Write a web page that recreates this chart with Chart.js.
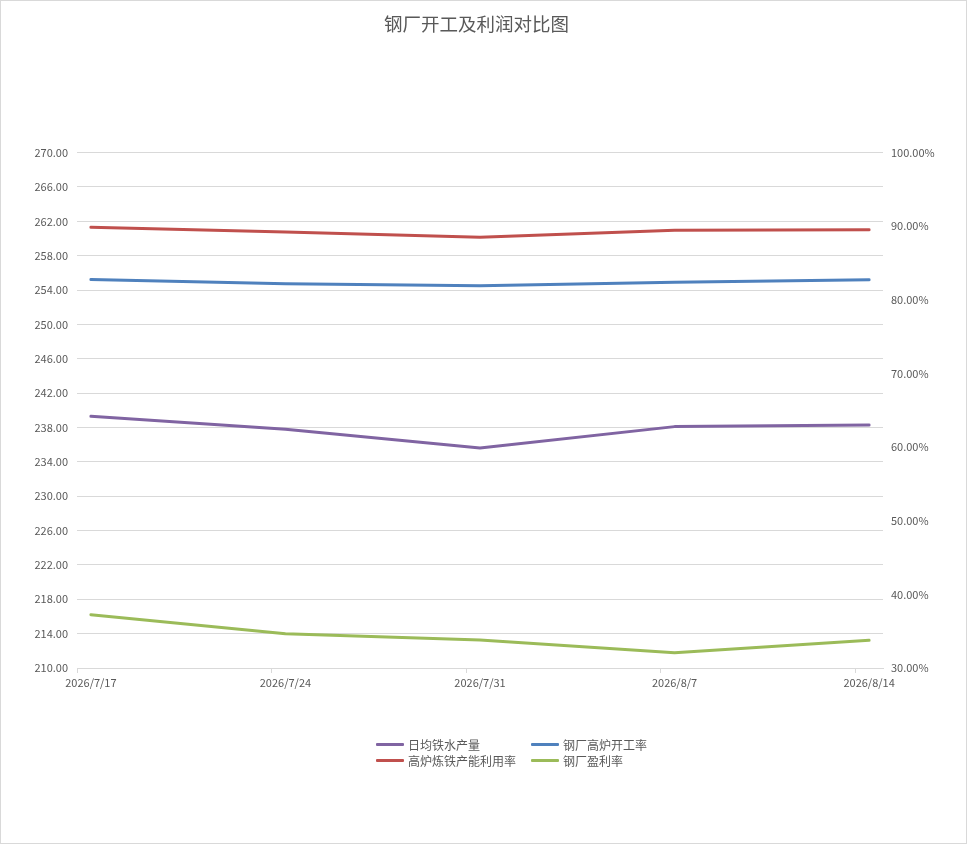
<!DOCTYPE html>
<html>
<head>
<meta charset="utf-8">
<title>钢厂开工及利润对比图</title>
<script src="https://cdn.jsdelivr.net/npm/chart.js@4.4.1/dist/chart.umd.min.js"></script>
<style>
  html, body { margin: 0; padding: 0; background: #fff; }
  #wrap { position: relative; width: 967px; height: 844px; }
  #frame { position: absolute; left: 0; top: 0; width: 967px; height: 844px; box-sizing: border-box;
           border: 1px solid #d9d9d9; pointer-events: none; }
  #legend { position: absolute; left: 376px; top: 736px; display: grid;
            grid-template-columns: 155px auto; row-gap: 0;
            font: 12px "Noto Sans CJK SC", "Noto Sans", sans-serif; color: #595959; }
  .item { display: flex; align-items: center; height: 16px; white-space: nowrap; }
  .swatch { width: 28px; height: 3px; margin-right: 4px; border-radius: 1px; }
</style>
</head>
<body>
<div id="wrap">
  <canvas id="steelChart" width="967" height="844"></canvas>
  <div id="legend"></div>
  <div id="frame"></div>
</div>
<script>
// dates (days from 2026/7/17) and their labels
const dayOffsets = [0, 7, 14, 21, 28];
const dateLabels = ["2026/7/17", "2026/7/24", "2026/7/31", "2026/8/7", "2026/8/14"];

// left axis: 万吨
const hotMetalOutput = [239.3, 237.8, 235.6, 238.1, 238.3];
// right axis: %
const blastFurnaceRate = [82.77, 82.19, 81.92, 82.40, 82.73];
const capacityUtilization = [89.87, 89.21, 88.51, 89.46, 89.51];
const profitRate = [37.23, 34.65, 33.80, 32.07, 33.77];

const leftTicks = { min: 210, max: 270, step: 4 };
const rightTicks = { min: 30, max: 100, step: 10 };

const grey = "#595959";
const fontFamily = "'Noto Sans CJK SC', 'Noto Sans', sans-serif";

function points(values) {
    return values.map((v, i) => ({ x: dayOffsets[i], y: v }));
}

const ctx = document.getElementById("steelChart").getContext("2d");

const chart = new Chart(ctx, {
    type: "line",
    data: {
        datasets: [
            { label: "日均铁水产量", data: points(hotMetalOutput), yAxisID: "y", borderColor: "#8064A2" },
            { label: "钢厂高炉开工率", data: points(blastFurnaceRate), yAxisID: "y1", borderColor: "#4F81BD" },
            { label: "高炉炼铁产能利用率", data: points(capacityUtilization), yAxisID: "y1", borderColor: "#C0504D" },
            { label: "钢厂盈利率", data: points(profitRate), yAxisID: "y1", borderColor: "#9BBB59" }
        ]
    },
    options: {
        responsive: false,
        animation: false,
        // right padding keeps the title centred a bit left, like the original
        layout: { padding: { top: 0, left: 0, right: 14, bottom: 155 } },
        elements: {
            line: { borderWidth: 3, tension: 0, borderCapStyle: "round", borderJoinStyle: "round" },
            point: { radius: 0, hoverRadius: 0 }
        },
        plugins: {
            legend: { display: false },
            tooltip: { enabled: false },
            title: {
                display: true,
                text: "钢厂开工及利润对比图",
                color: grey,
                font: { family: fontFamily, size: 18.5, weight: "normal" },
                padding: { top: 13, bottom: 117.4 }
            }
        },
        scales: {
            x2: {
                type: "linear",
                position: "bottom",
                weight: 0,
                min: dayOffsets[0] - 0.5,
                max: dayOffsets[dayOffsets.length - 1] + 0.5,
                afterBuildTicks: function (axis) {
                    axis.ticks = dayOffsets.map(d => ({ value: d - 0.5 }));
                },
                ticks: { display: false },
                grid: { drawOnChartArea: false, drawTicks: true, tickLength: 5, color: "#d9d9d9" },
                border: { display: true, color: "#d9d9d9" }
            },
            x: {
                type: "linear",
                position: "bottom",
                weight: 1,
                min: dayOffsets[0] - 0.5,
                max: dayOffsets[dayOffsets.length - 1] + 0.5,
                afterBuildTicks: function (axis) {
                    axis.ticks = dayOffsets.map(d => ({ value: d }));
                },
                afterFit: function (axis) { axis.height = 16; },
                ticks: {
                    autoSkip: false,
                    maxRotation: 0,
                    padding: 3,
                    color: grey,
                    font: { family: fontFamily, size: 11 },
                    callback: function (value, index) { return dateLabels[index]; }
                },
                grid: { display: false, drawTicks: false },
                border: { display: false }
            },
            y: {
                position: "left",
                min: leftTicks.min,
                max: leftTicks.max,
                afterFit: function (axis) { axis.width = 77; },
                ticks: {
                    stepSize: leftTicks.step,
                    padding: 9,
                    color: grey,
                    font: { family: fontFamily, size: 11 },
                    callback: v => v.toFixed(2)
                },
                grid: { color: "#d9d9d9", drawTicks: false },
                border: { display: false }
            },
            y1: {
                position: "right",
                min: rightTicks.min,
                max: rightTicks.max,
                afterFit: function (axis) { axis.width = 70; },
                ticks: {
                    stepSize: rightTicks.step,
                    padding: 8,
                    color: grey,
                    font: { family: fontFamily, size: 11 },
                    callback: v => v.toFixed(2) + "%"
                },
                grid: { display: false, drawTicks: false },
                border: { display: false }
            }
        }
    }
});

// html legend, two columns like the original
const legendBox = document.getElementById("legend");
chart.data.datasets.forEach(ds => {
    const item = document.createElement("div");
    item.className = "item";
    const sw = document.createElement("span");
    sw.className = "swatch";
    sw.style.background = ds.borderColor;
    const txt = document.createElement("span");
    txt.textContent = ds.label;
    item.appendChild(sw);
    item.appendChild(txt);
    legendBox.appendChild(item);
});
</script>
</body>
</html>
